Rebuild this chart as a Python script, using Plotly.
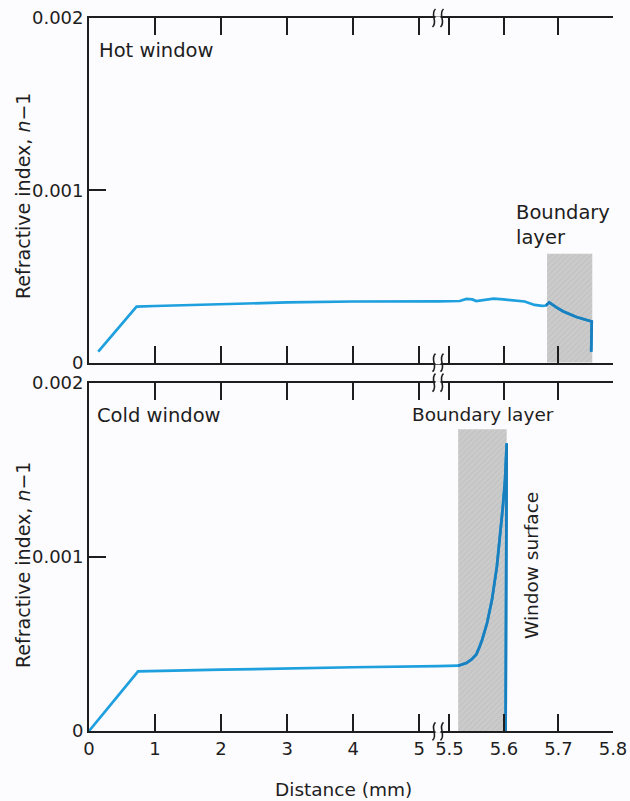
import plotly.graph_objects as go

# ---------------------------------------------------------------------------
# Refractive index (n - 1) versus distance across the cell (mm).
# The distance axis is broken between 5.3 and 5.5 mm.
# ---------------------------------------------------------------------------

# Hot window: 0 ... 5.3 mm segment
hot_x_near = [0.14, 0.72, 1.0, 2.0, 3.0, 4.0, 5.285]
hot_y_near = [0.000064, 0.000325, 0.000329, 0.00034, 0.00035, 0.000355, 0.000356]

# Hot window: 5.5 ... 5.8 mm segment
hot_x_far = [5.479, 5.519, 5.531, 5.542, 5.549, 5.564, 5.581, 5.599, 5.626,
             5.638, 5.656, 5.670, 5.677, 5.683, 5.697, 5.709, 5.733, 5.747,
             5.761, 5.760]
hot_y_far = [0.000356, 0.000358, 0.00037, 0.000367, 0.000358, 0.000364,
             0.000372, 0.000367, 0.000361, 0.000355, 0.000335, 0.00033,
             0.000332, 0.00035, 0.00032, 0.000297, 0.000265, 0.00025,
             0.000239, 0.000064]

# Cold window: 0 ... 5.3 mm segment
cold_x_near = [0.0, 0.743, 2.0, 3.0, 4.0, 5.285]
cold_y_near = [0.0, 0.000342, 0.000352, 0.00036, 0.000366, 0.000372]

# Cold window: 5.5 ... 5.8 mm segment
cold_x_far = [5.479, 5.516, 5.531, 5.540, 5.549, 5.555, 5.560, 5.569, 5.578,
              5.587, 5.593, 5.598, 5.602, 5.605, 5.603]
cold_y_far = [0.000373, 0.000375, 0.00039, 0.00041, 0.000438, 0.00048,
              0.000524, 0.00062, 0.000753, 0.000944, 0.001116, 0.001289,
              0.001442, 0.001652, 0.0]

# Boundary layers: (start mm, end mm, top of shading)
hot_layer = (5.679, 5.762, 0.000632)
cold_layer = (5.516, 5.605, 0.001733)

# Axis ranges and ticks
near_range = [0, 5.285]
far_range = [5.479, 5.8]
near_ticks = [0, 1, 2, 3, 4, 5]
near_labels = ["0", "1", "2", "3", "4", "5"]
far_ticks = [5.5, 5.6, 5.7, 5.8]
far_labels = ["5.5", "5.6", "5.7", "5.8"]
y_range = [0, 0.002]
y_ticks = [0, 0.001, 0.002]
y_labels = ["0", "0.001", "0.002"]

# ---------------------------------------------------------------------------
FIG_W, FIG_H = 630, 801
M_L, M_R, M_T, M_B = 89, 17, 18, 70
PLOT_W = FIG_W - M_L - M_R
PLOT_H = FIG_H - M_T - M_B

BG = "#fcfbfd"
INK = "#1e1e1e"
BLUE = "#1ea0de"
BLUE_DARK = "#1a7fbf"
FONT = "DejaVu Sans"


def paper_x(px):
    return (px - M_L) / PLOT_W


def paper_y(py):
    return (FIG_H - M_B - py) / PLOT_H


SPLIT = paper_x(438)
TOP_PANEL = [paper_y(362.7), 1.0]
BOTTOM_PANEL = [0.0, paper_y(382.7)]

fig = go.Figure()


def add_layer(layer, xa, ya):
    x0, x1, top = layer
    fig.add_trace(go.Scatter(
        x=[x0, x1, x1, x0, x0], y=[0, 0, top, top, 0],
        xaxis=xa, yaxis=ya, mode="lines", fill="toself",
        fillcolor="#c9c9c9",
        fillpattern=dict(shape="/", size=4, solidity=0.3,
                         fgcolor="#b8b8b8", bgcolor="#cbcbcb"),
        line=dict(width=0), hoverinfo="skip", showlegend=False))


def add_line(xs, ys, xa, ya, color):
    fig.add_trace(go.Scatter(
        x=xs, y=ys, xaxis=xa, yaxis=ya, mode="lines",
        line=dict(color=color, width=2.7), showlegend=False))


def add_profile(x_near, y_near, x_far, y_far, layer, axes):
    xa_near, xa_far, ya = axes
    add_layer(layer, xa_far, ya)
    add_line(x_near, y_near, xa_near, ya, BLUE)
    add_line(x_far, y_far, xa_far, ya, BLUE)
    # part of the profile inside the shaded boundary layer
    inside = [i for i, x in enumerate(x_far) if x >= layer[0] - 0.003]
    add_line([x_far[i] for i in inside], [y_far[i] for i in inside],
             xa_far, ya, BLUE_DARK)


add_profile(hot_x_near, hot_y_near, hot_x_far, hot_y_far, hot_layer,
            ("x", "x2", "y"))
add_profile(cold_x_near, cold_y_near, cold_x_far, cold_y_far, cold_layer,
            ("x3", "x4", "y3"))

axis_style = dict(showline=True, linewidth=1.8, linecolor=INK,
                  ticks="inside", ticklen=17, tickwidth=1.8, tickcolor=INK,
                  showgrid=False, zeroline=False, automargin=False,
                  tickfont=dict(family=FONT, size=18, color=INK))


def x_axis(domain, rng, ticks, labels, anchor, show_labels):
    return dict(axis_style, domain=domain, range=rng, anchor=anchor,
                tickmode="array", tickvals=ticks, ticktext=labels,
                showticklabels=show_labels, mirror="ticks")


def y_axis(domain, anchor, **kw):
    return dict(axis_style, domain=domain, range=y_range, anchor=anchor,
                tickmode="array", tickvals=y_ticks, ticktext=y_labels, **kw)


fig.update_layout(
    width=FIG_W, height=FIG_H,
    margin=dict(l=M_L, r=M_R, t=M_T, b=M_B, autoexpand=False),
    paper_bgcolor=BG, plot_bgcolor=BG,
    showlegend=False,
    font=dict(family=FONT, size=18, color=INK),
    xaxis=x_axis([0, SPLIT], near_range, near_ticks, near_labels, "y", False),
    xaxis2=x_axis([SPLIT, 1], far_range, far_ticks, far_labels, "y", False),
    yaxis=y_axis(TOP_PANEL, "x"),
    yaxis2=y_axis(TOP_PANEL, "x2", overlaying="y", side="right",
                  showticklabels=False),
    xaxis3=x_axis([0, SPLIT], near_range, near_ticks, near_labels, "y3", True),
    xaxis4=x_axis([SPLIT, 1], far_range, far_ticks, far_labels, "y3", True),
    yaxis3=y_axis(BOTTOM_PANEL, "x3"),
    yaxis4=y_axis(BOTTOM_PANEL, "x4", overlaying="y3", side="right",
                  showticklabels=False),
)

# Axis-break marks on the four horizontal frame lines
shapes = []
for yp in (18, 362.7, 382.7, 731.3):
    shapes.append(dict(type="rect", xref="paper", yref="paper", layer="above",
                       x0=paper_x(435.5), x1=paper_x(440.5),
                       y0=paper_y(yp + 1.6), y1=paper_y(yp - 1.6),
                       fillcolor=BG, line=dict(width=0)))
    for xc in (434, 442):
        path = (f"M {paper_x(xc - 1.5)},{paper_y(yp + 9)} "
                f"C {paper_x(xc + 4.5)},{paper_y(yp + 4)} "
                f"{paper_x(xc - 4.5)},{paper_y(yp - 4)} "
                f"{paper_x(xc + 1.5)},{paper_y(yp - 9)}")
        shapes.append(dict(type="path", xref="paper", yref="paper",
                           layer="above", path=path,
                           line=dict(color=INK, width=1.6)))
fig.update_layout(shapes=shapes)


def note(text, px, py, xanchor="left", angle=0, size=19.5, align="left"):
    fig.add_annotation(text=text, xref="paper", yref="paper",
                       x=paper_x(px), y=paper_y(py), xanchor=xanchor,
                       yanchor="middle", textangle=angle, showarrow=False,
                       align=align, font=dict(family=FONT, size=size, color=INK))


note("Hot window", 97, 50)
note("Boundary<br>layer", 514, 225)
note("Cold window", 95, 416)
note("Boundary layer", 410, 414, size=18.5)
note("Window surface", 531, 566, xanchor="center", angle=-90, size=18.5)
note("Refractive index, <i>n</i>−1", 23, 196, xanchor="center", angle=-90,
     size=19)
note("Refractive index, <i>n</i>−1", 23, 565, xanchor="center", angle=-90,
     size=19)
note("Distance (mm)", 343, 789, xanchor="center", size=18.5)

fig.write_html("out.html")
